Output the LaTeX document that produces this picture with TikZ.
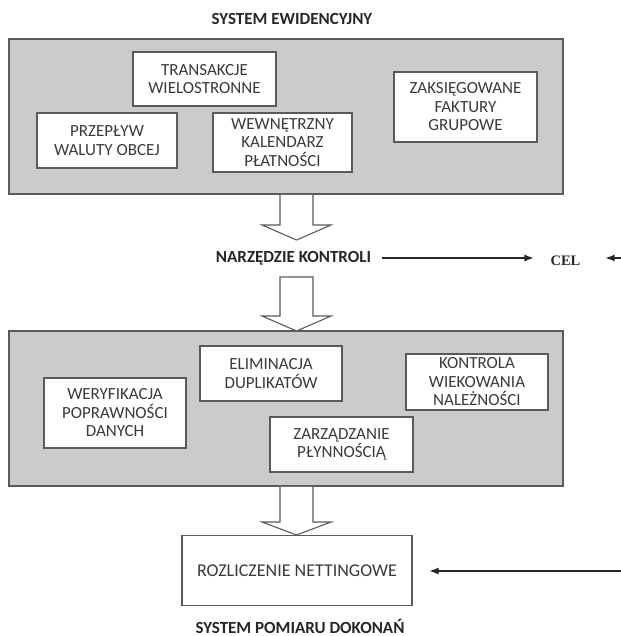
\documentclass[tikz,border=0pt]{standalone}
\usepackage{fontspec}
\setmainfont{Carlito}
\newfontfamily\celfont{Liberation Serif}
\usetikzlibrary{arrows.meta}
\definecolor{panelgray}{HTML}{CBCBCD}
\definecolor{edgegray}{HTML}{5A5A5A}
\definecolor{txtgray}{HTML}{3A3A3A}
\newcommand\hollowarrow[3]{%
  \draw[hollow] (280,#1) -- (280,#2) -- (262,#2) -- (296.5,#3) -- (331,#2) -- (313,#2) -- (313,#1);}
\newcommand\hollowarrowclosed[3]{%
  \draw[hollow] (280,#1) -- (280,#2) -- (262,#2) -- (296.5,#3) -- (331,#2) -- (313,#2) -- (313,#1) -- cycle;}
\begin{document}
\begin{tikzpicture}[x=1pt,y=-1pt,
  panel/.style={draw=edgegray, fill=panelgray, line width=1.4pt, inner sep=0pt},
  item/.style={draw=edgegray, fill=white, line width=1.2pt, inner sep=0pt, align=center,
    text=txtgray, font=\fontsize{17}{18.5}\selectfont},
  ttl/.style={font=\bfseries\fontsize{17}{20}\selectfont, text=black!85, inner sep=0pt},
  hollow/.style={draw=edgegray, fill=white, line width=1.1pt, line join=miter},
  arr/.style={line width=2pt, draw=black!85, -{Latex[length=10pt,width=7pt]}}]

\useasboundingbox (0,0) rectangle (620,636);

% titles
\node[ttl] (sysew) at (292,19) {SYSTEM EWIDENCYJNY};
\node[ttl] (nk) at (293.5,258) {NARZĘDZIE KONTROLI};
\node[ttl] (spd) at (300,626) {SYSTEM POMIARU DOKONAŃ};
\node[inner sep=0pt, font=\celfont\bfseries\fontsize{14.5}{16}\selectfont, text=black!85] (cel) at (565.5,261) {CEL};

% panels
\node[panel, minimum width=554pt, minimum height=155pt] (sys) at (286,116.5) {};
\node[panel, minimum width=554pt, minimum height=155pt] (ctl) at (286,408.5) {};

% upper items
\node[item, minimum width=143pt, minimum height=54pt] (trans) at (204.5,79) {TRANSAKCJE\\WIELOSTRONNE};
\node[item, minimum width=140pt, minimum height=55pt] (przep) at (107,140.5) {PRZEPŁYW\\WALUTY OBCEJ};
\node[item, minimum width=139pt, minimum height=59pt] (wewn) at (282.5,142.5) {WEWNĘTRZNY\\KALENDARZ\\PŁATNOŚCI};
\node[item, minimum width=143pt, minimum height=70pt] (zaks) at (465.5,107) {ZAKSIĘGOWANE\\FAKTURY\\GRUPOWE};

% lower items
\node[item, minimum width=142pt, minimum height=55pt] (elim) at (271,373.5) {ELIMINACJA\\DUPLIKATÓW};
\node[item, minimum width=142pt, minimum height=70pt] (wery) at (115,413) {WERYFIKACJA\\POPRAWNOŚCI\\DANYCH};
\node[item, minimum width=142pt, minimum height=56pt] (kontr) at (477,382) {KONTROLA\\WIEKOWANIA\\NALEŻNOŚCI};
\node[item, minimum width=143pt, minimum height=55pt] (zarz) at (341.5,444.5) {ZARZĄDZANIE\\PŁYNNOŚCIĄ};

% result box
\node[item, minimum width=230pt, minimum height=70pt, font=\fontsize{18}{20}\selectfont] (rozl) at (297,570.5) {ROZLICZENIE NETTINGOWE};

% hollow arrows
\hollowarrow{194.8}{225}{240}
\hollowarrowclosed{277}{316}{331}
\hollowarrow{486.8}{522}{535}

% thin arrows
\draw[arr, shorten <=11pt, shorten >=16pt] (nk.east) -- (nk.east -| cel.west);
\coordinate (celin) at (622,258);
\draw[arr, shorten >=24pt] (celin) -- (celin -| cel.east);
\coordinate (rozin) at (622,571);
\draw[arr, shorten >=16pt] (rozin) -- (rozin -| rozl.east);
\end{tikzpicture}
\end{document}
